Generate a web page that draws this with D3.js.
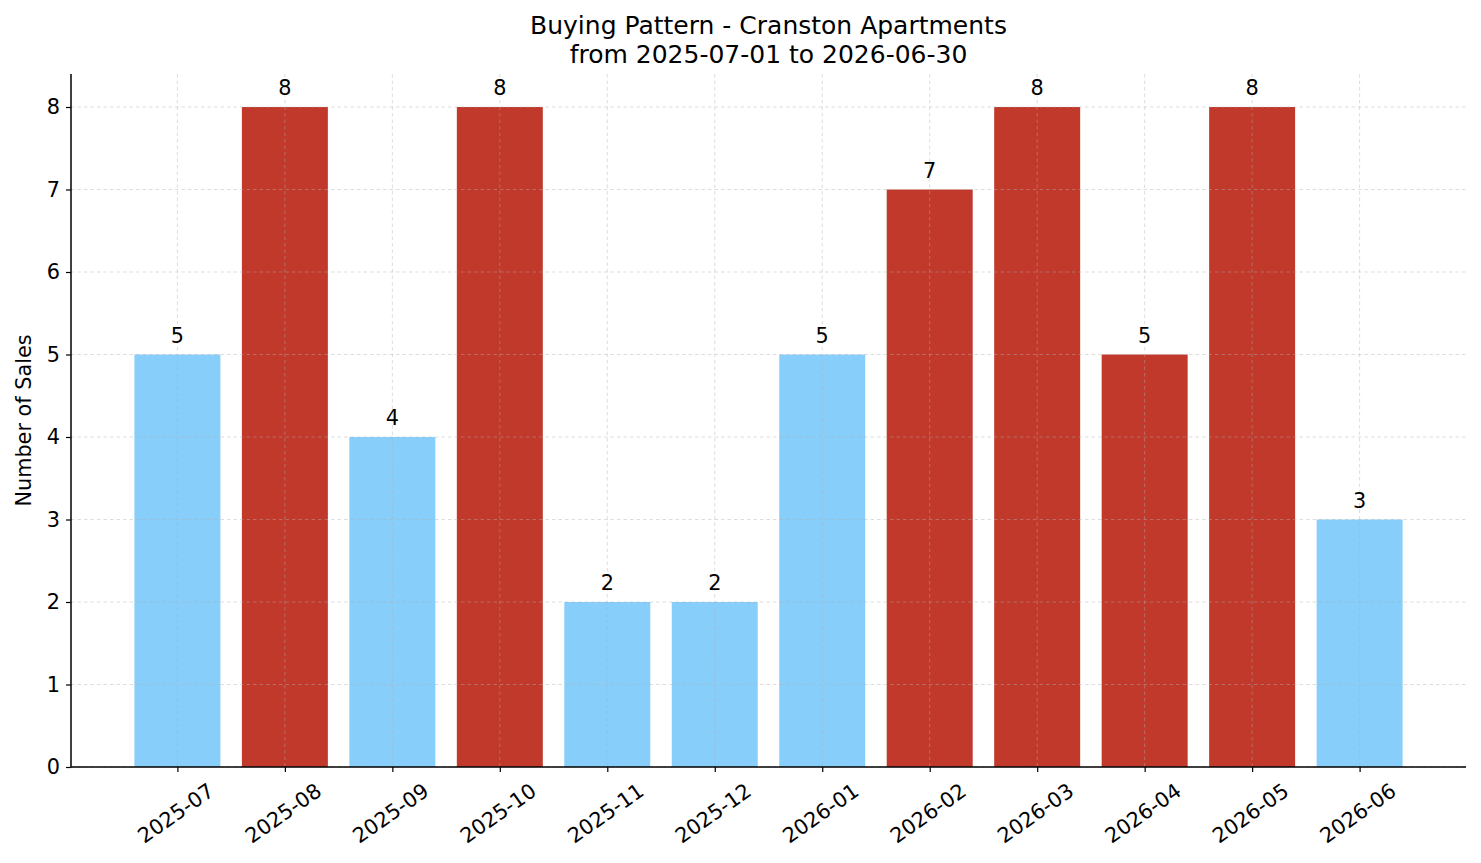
<!DOCTYPE html>
<html>
<head>
<meta charset="utf-8">
<script src="https://cdn.jsdelivr.net/npm/d3@7"></script>
<style>
  body { margin: 0; background: #fff; }
  svg { display: block; font-family: "DejaVu Sans", sans-serif; }
</style>
</head>
<body>
<svg id="chart" width="1481" height="863"></svg>
<script>
// data
var months = ['2025-07', '2025-08', '2025-09', '2025-10', '2025-11', '2025-12',
              '2026-01', '2026-02', '2026-03', '2026-04', '2026-05', '2026-06'];
var sales = [5, 8, 4, 8, 2, 2, 5, 7, 8, 5, 8, 3];
// months drawn in the dark (highlighted) colour
var highlighted = ['2025-08', '2025-10', '2026-02', '2026-03', '2026-04', '2026-05'];
var yTicks = [0, 1, 2, 3, 4, 5, 6, 7, 8];
var titleLines = ['Buying Pattern - Cranston Apartments', 'from 2025-07-01 to 2026-06-30'];

var svg = d3.select('#chart'),
    margin = {top: 74, right: 15, bottom: 96, left: 71},
    width = 1481 - margin.left - margin.right,
    height = 863 - margin.top - margin.bottom,
    fs = 20.8;

var g = svg.append('g').attr('transform', 'translate(' + margin.left + ',' + margin.top + ')');

// matplotlib style x limits: bars of width 0.8, 5% margin
var x = d3.scaleLinear().domain([-0.99, months.length - 1 + 0.99]).range([0, width]),
    y = d3.scaleLinear().domain([0, 8.4]).range([height, 0]),
    barWidth = x(0.8) - x(0);

var colorOf = function(m) { return highlighted.indexOf(m) >= 0 ? '#c0392b' : '#87cefa'; };

// bars
g.selectAll('rect.bar').data(months)
  .enter().append('rect')
    .attr('class', 'bar')
    .attr('x', function(d, i) { return x(i) - barWidth / 2; })
    .attr('y', function(d, i) { return y(sales[i]); })
    .attr('width', barWidth)
    .attr('height', function(d, i) { return height - y(sales[i]); })
    .attr('fill', colorOf);

// grid (on top of bars, faint)
var grid = g.append('g').attr('class', 'grid')
    .attr('stroke', '#b0b0b0').attr('stroke-opacity', 0.55)
    .attr('stroke-width', 0.8).attr('stroke-dasharray', '3.5,3');
grid.selectAll('line.h').data(yTicks).enter().append('line')
    .attr('x1', 0).attr('x2', width)
    .attr('y1', function(d) { return y(d); }).attr('y2', function(d) { return y(d); });
grid.selectAll('line.v').data(months).enter().append('line')
    .attr('y1', 0).attr('y2', height)
    .attr('x1', function(d, i) { return x(i); }).attr('x2', function(d, i) { return x(i); });

// value labels
g.selectAll('text.value').data(months)
  .enter().append('text')
    .attr('class', 'value')
    .attr('x', function(d, i) { return x(i); })
    .attr('y', function(d, i) { return y(sales[i]) - 12; })
    .attr('text-anchor', 'middle')
    .attr('font-size', fs)
    .attr('fill', '#000')
    .text(function(d, i) { return sales[i]; });

// y axis
var yAxis = d3.axisLeft(y).tickValues(yTicks).tickSize(5).tickPadding(6).tickFormat(d3.format('d'));
var yG = g.append('g').call(yAxis);
yG.select('.domain').attr('stroke', '#000').attr('stroke-width', 1.5).attr('d', 'M0,0V' + height);
yG.selectAll('.tick line').attr('stroke', '#000').attr('stroke-width', 1.2);
yG.selectAll('.tick text').attr('font-size', fs).attr('fill', '#000').attr('font-family', 'DejaVu Sans');

// x axis
var xAxis = d3.axisBottom(x).tickValues(d3.range(months.length)).tickSize(5).tickFormat(function(i) { return months[i]; });
var xG = g.append('g').attr('transform', 'translate(0,' + height + ')').call(xAxis);
xG.select('.domain').attr('stroke', '#000').attr('stroke-width', 1.5).attr('d', 'M0,0H' + width);
xG.selectAll('.tick line').attr('stroke', '#000').attr('stroke-width', 1.2);

// rotated tick labels, bbox centred under the tick like matplotlib
var angle = 35, rad = angle * Math.PI / 180;
xG.selectAll('.tick text')
    .attr('font-size', fs).attr('fill', '#000').attr('font-family', 'DejaVu Sans')
    .attr('dy', null)
    .attr('dominant-baseline', 'central')
    .attr('text-anchor', 'middle')
    .each(function() {
      var w = this.getComputedTextLength(),
          h = fs * 1.0,
          boxH = w * Math.sin(rad) + h * Math.cos(rad),
          cy = 5 + 8 + boxH / 2;
      d3.select(this).attr('y', 0)
        .attr('transform', 'translate(-2,' + cy + ') rotate(' + (-angle) + ')');
    });

// y label
svg.append('text')
    .attr('transform', 'translate(31,' + (margin.top + height / 2) + ') rotate(-90)')
    .attr('text-anchor', 'middle')
    .attr('font-size', fs)
    .text('Number of Sales');

// title
svg.selectAll('text.title').data(titleLines)
  .enter().append('text')
    .attr('class', 'title')
    .attr('x', margin.left + width / 2)
    .attr('y', function(d, i) { return 34 + i * 28.5; })
    .attr('text-anchor', 'middle')
    .attr('font-size', 25)
    .text(function(d) { return d; });
</script>
</body>
</html>
